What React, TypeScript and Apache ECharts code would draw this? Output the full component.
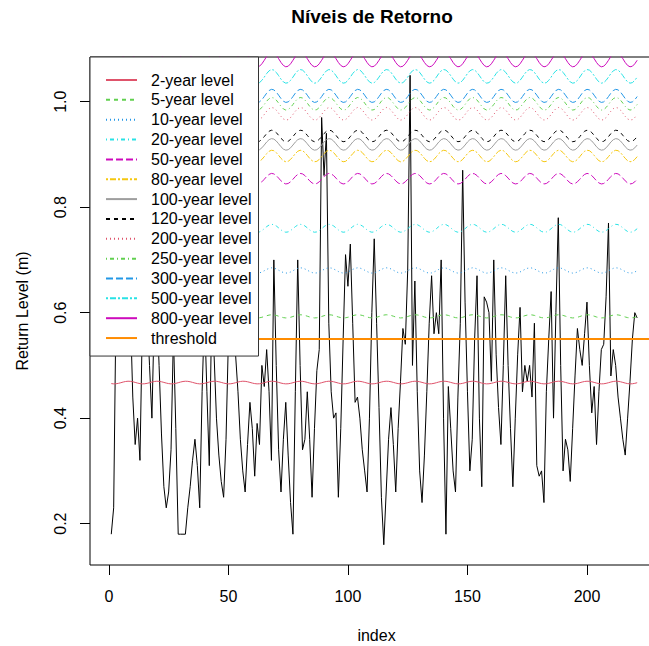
import React, { useEffect, useRef } from "react";
import * as echarts from "echarts";

// ---- observed series (index 1..221) ----
const observed: number[] = [
  0.18, 0.23, 0.62, 0.70, 0.66, 0.58, 0.68, 0.64, 0.60, 0.44,
  0.35, 0.40, 0.32, 0.58, 0.66, 0.60, 0.50, 0.40, 0.60, 0.62,
  0.50, 0.37, 0.27, 0.23, 0.26, 0.34, 0.56, 0.38, 0.18, 0.18,
  0.18, 0.18, 0.23, 0.27, 0.32, 0.36, 0.31, 0.23, 0.45, 0.60,
  0.45, 0.31, 0.60, 0.52, 0.40, 0.33, 0.28, 0.25, 0.36, 0.55,
  0.65, 0.62, 0.52, 0.45, 0.36, 0.30, 0.26, 0.35, 0.43, 0.38,
  0.29, 0.39, 0.35, 0.50, 0.46, 0.53, 0.45, 0.32, 0.70, 0.50,
  0.34, 0.26, 0.36, 0.43, 0.33, 0.24, 0.18, 0.45, 0.70, 0.50,
  0.34, 0.36, 0.45, 0.36, 0.25, 0.38, 0.49, 0.53, 0.97, 0.86,
  0.94, 0.58, 0.45, 0.40, 0.41, 0.25, 0.38, 0.55, 0.71, 0.65,
  0.73, 0.58, 0.43, 0.44, 0.40, 0.34, 0.30, 0.26, 0.40, 0.60,
  0.74, 0.58, 0.42, 0.25, 0.16, 0.26, 0.36, 0.42, 0.35, 0.26,
  0.38, 0.47, 0.57, 0.54, 0.68, 1.05, 0.50, 0.66, 0.45, 0.30,
  0.24, 0.33, 0.45, 0.58, 0.67, 0.56, 0.60, 0.56, 0.70, 0.40,
  0.18, 0.46, 0.38, 0.30, 0.26, 0.44, 0.58, 0.87, 0.62, 0.45,
  0.30, 0.36, 0.55, 0.67, 0.40, 0.27, 0.63, 0.62, 0.60, 0.47,
  0.70, 0.52, 0.42, 0.35, 0.50, 0.67, 0.50, 0.38, 0.27, 0.40,
  0.52, 0.61, 0.45, 0.50, 0.47, 0.50, 0.44, 0.58, 0.31, 0.29,
  0.30, 0.24, 0.45, 0.55, 0.64, 0.40, 0.60, 0.78, 0.50, 0.30,
  0.36, 0.34, 0.28, 0.38, 0.48, 0.57, 0.53, 0.50, 0.56, 0.62,
  0.50, 0.41, 0.46, 0.35, 0.45, 0.53, 0.54, 0.63, 0.77, 0.48,
  0.53, 0.50, 0.44, 0.40, 0.36, 0.33, 0.40, 0.47, 0.55, 0.60,
  0.59,
];

// ---- seasonal return levels: one value per month of the 12-month cycle ----
const rl2: number[] = [0.4655, 0.4650, 0.4652, 0.4660, 0.4672, 0.4685, 0.4695, 0.4700, 0.4698, 0.4690, 0.4678, 0.4665];
const rl5: number[] = [0.5906, 0.5900, 0.5903, 0.5912, 0.5927, 0.5942, 0.5954, 0.5960, 0.5957, 0.5948, 0.5933, 0.5918];
const rl10: number[] = [0.6760, 0.6750, 0.6754, 0.6771, 0.6795, 0.6820, 0.6840, 0.6850, 0.6846, 0.6829, 0.6805, 0.6780];
const rl20: number[] = [0.7539, 0.7525, 0.7531, 0.7556, 0.7592, 0.7631, 0.7661, 0.7675, 0.7669, 0.7644, 0.7608, 0.7569];
const rl50: number[] = [0.8459, 0.8440, 0.8449, 0.8481, 0.8529, 0.8581, 0.8621, 0.8640, 0.8631, 0.8599, 0.8551, 0.8499];
const rl80: number[] = [0.8881, 0.8861, 0.8869, 0.8905, 0.8958, 0.9015, 0.9059, 0.9079, 0.9071, 0.9035, 0.8982, 0.8925];
const rl100: number[] = [0.9101, 0.9081, 0.9089, 0.9125, 0.9178, 0.9235, 0.9279, 0.9299, 0.9291, 0.9255, 0.9202, 0.9145];
const rl120: number[] = [0.9261, 0.9241, 0.9249, 0.9285, 0.9338, 0.9395, 0.9439, 0.9459, 0.9451, 0.9415, 0.9362, 0.9305];
const rl200: number[] = [0.9673, 0.9651, 0.9660, 0.9699, 0.9757, 0.9819, 0.9867, 0.9889, 0.9880, 0.9841, 0.9783, 0.9721];
const rl250: number[] = [0.9863, 0.9841, 0.9850, 0.9889, 0.9947, 1.0009, 1.0057, 1.0079, 1.0070, 1.0031, 0.9973, 0.9911];
const rl300: number[] = [1.0009, 0.9986, 0.9996, 1.0036, 1.0097, 1.0161, 1.0211, 1.0234, 1.0224, 1.0184, 1.0123, 1.0059];
const rl500: number[] = [1.0375, 1.0351, 1.0361, 1.0404, 1.0466, 1.0533, 1.0585, 1.0609, 1.0599, 1.0556, 1.0494, 1.0427];
const rl800: number[] = [1.0687, 1.0661, 1.0672, 1.0718, 1.0785, 1.0857, 1.0913, 1.0939, 1.0928, 1.0882, 1.0815, 1.0743];

const threshold = 0.55;

const levelNames: string[] = [
  "2-year level", "5-year level", "10-year level", "20-year level", "50-year level",
  "80-year level", "100-year level", "120-year level", "200-year level", "250-year level",
  "300-year level", "500-year level", "800-year level",
];
const levelCycles: number[][] = [rl2, rl5, rl10, rl20, rl50, rl80, rl100, rl120, rl200, rl250, rl300, rl500, rl800];
const levelColors: string[] = [
  "#DF536B", "#61D04F", "#2297E6", "#28E2E5", "#CD0BBC", "#F5C710", "#9E9E9E",
  "#000000", "#DF536B", "#61D04F", "#2297E6", "#28E2E5", "#CD0BBC",
];
const SOLID = "solid";
const DASHED = [4, 4];
const DOTTED = [1, 3];
const DOTDASH = [1, 3, 4, 3];
const LONGDASH = [7, 3];
const TWODASH = [2, 2, 6, 2];
const levelDash: any[] = [SOLID, DASHED, DOTTED, DOTDASH, LONGDASH, TWODASH, SOLID, DASHED, DOTTED, DOTDASH, LONGDASH, TWODASH, SOLID];

const xTicks = [0, 50, 100, 150, 200];
const yTicks = [0.2, 0.4, 0.6, 0.8, 1.0];
const X_MIN = -7.9;
const X_MAX = 231.8;
const Y_MIN = 0.1216;
const Y_MAX = 1.0847;

const FONT = "'Liberation Sans', Arial, sans-serif";

export default function App() {
  const ref = useRef<HTMLDivElement>(null);

  useEffect(() => {
    if (!ref.current) return;
    const chart = echarts.init(ref.current, undefined, { renderer: "svg" });

    const obsData = observed.map((v, i) => [i + 1, v]);
    const levelSeries = levelNames.map((name, k) => ({
      name,
      type: "line",
      symbol: "none",
      data: observed.map((_, i) => [i + 1, levelCycles[k][i % 12]]),
      lineStyle: { color: levelColors[k], width: 1, type: levelDash[k], cap: "butt" },
      itemStyle: { color: levelColors[k] },
      emphasis: { disabled: true },
      silent: true,
    }));

    const option: any = {
      animation: false,
      textStyle: { fontFamily: FONT, color: "#000" },
      title: {
        text: "Níveis de Retorno",
        left: 372,
        top: 7,
        padding: 0,
        textAlign: "center",
        textStyle: { fontFamily: FONT, fontSize: 19, fontWeight: "bold", color: "#000" },
      },
      grid: {
        show: true,
        left: 90,
        top: 57,
        width: 573,
        height: 508,
        containLabel: false,
        outerBoundsMode: "none",
        borderColor: "#000",
        borderWidth: 1,
        backgroundColor: "transparent",
      },
      legend: {
        show: true,
        orient: "vertical",
        left: 90,
        top: 57,
        padding: [15, 7, 10, 15],
        itemGap: 3.85,
        itemWidth: 31,
        itemHeight: 14,
        selectedMode: false,
        backgroundColor: "#fff",
        borderColor: "#333",
        borderWidth: 1,
        borderRadius: 0,
        itemStyle: { opacity: 0, borderWidth: 0 },
        textStyle: { fontFamily: FONT, fontSize: 16, lineHeight: 16, color: "#000", padding: [0, 0, 0, 9] },
        data: [...levelNames, "threshold"],
      },
      xAxis: {
        type: "value",
        min: X_MIN,
        max: X_MAX,
        name: "index",
        nameLocation: "middle",
        nameGap: 62,
        nameTextStyle: { fontFamily: FONT, fontSize: 16, color: "#000" },
        axisLine: { show: false, onZero: false },
        splitLine: { show: false },
        axisTick: { show: true, length: 10, customValues: xTicks, lineStyle: { color: "#000" } },
        axisLabel: {
          customValues: xTicks,
          margin: 23,
          fontFamily: FONT,
          fontSize: 16,
          color: "#000",
        },
      },
      yAxis: {
        type: "value",
        min: Y_MIN,
        max: Y_MAX,
        name: "Return Level (m)",
        nameLocation: "middle",
        nameGap: 60,
        nameRotate: 90,
        nameTextStyle: { fontFamily: FONT, fontSize: 16, color: "#000" },
        axisLine: { show: false, onZero: false },
        splitLine: { show: false },
        axisTick: { show: true, length: 10, customValues: yTicks, lineStyle: { color: "#000" } },
        axisLabel: {
          customValues: yTicks,
          rotate: 90,
          margin: 22,
          fontFamily: FONT,
          fontSize: 16,
          color: "#000",
          formatter: (v: number) => v.toFixed(1),
        },
      },
      series: [
        {
          name: "observed",
          type: "line",
          symbol: "none",
          data: obsData,
          lineStyle: { color: "#000", width: 1 },
          emphasis: { disabled: true },
          silent: true,
        },
        ...levelSeries,
        {
          name: "threshold",
          type: "line",
          symbol: "none",
          data: [[X_MIN, threshold], [X_MAX, threshold]],
          lineStyle: { color: "#FF8C00", width: 2 },
          itemStyle: { color: "#FF8C00" },
          emphasis: { disabled: true },
          silent: true,
        },
      ],
    };

    chart.setOption(option);
    return () => chart.dispose();
  }, []);

  return (
    <div
      ref={ref}
      style={{ position: "fixed", left: 0, top: 0, width: 649, height: 646, background: "#fff" }}
    />
  );
}
